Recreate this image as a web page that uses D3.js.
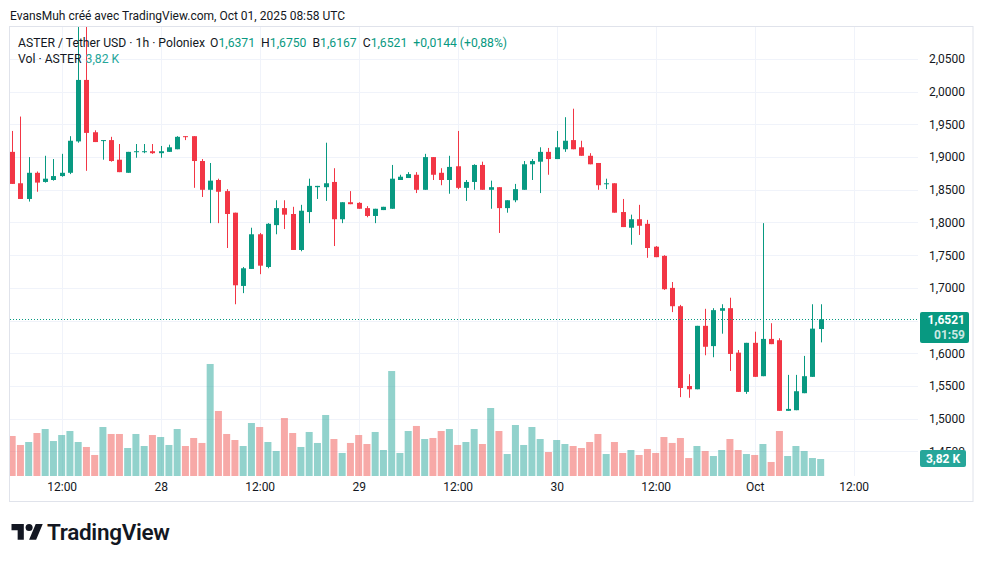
<!DOCTYPE html>
<html>
<head>
<meta charset="utf-8">
<title>ASTER / Tether USD 1h</title>
<script src="https://cdn.jsdelivr.net/npm/d3@7"></script>
<style>
  body { margin: 0; background: #fff; }
  svg { display: block; font-family: Roboto, "Noto Sans", sans-serif; }
</style>
</head>
<body>
<script>
// hourly candles, first one Sep 27 2025 06:00 UTC
const startTime = new Date(Date.UTC(2025, 8, 27, 6));
const open  = [1.908,1.860,1.836,1.876,1.862,1.865,1.871,1.876,1.924,2.018,
               1.938,1.925,1.926,1.896,1.876,1.908,1.908,1.909,1.906,1.908,
               1.912,1.932,1.932,1.894,1.850,1.865,1.848,1.815,1.703,1.729,
               1.782,1.732,1.796,1.822,1.813,1.758,1.816,1.854,1.854,1.862,
               1.805,1.831,1.830,1.822,1.810,1.819,1.821,1.865,1.868,1.873,
               1.850,1.900,1.876,1.865,1.886,1.853,1.862,1.888,1.850,1.854,
               1.822,1.834,1.850,1.889,1.893,1.908,1.897,1.912,1.926,1.915,
               1.902,1.891,1.859,1.860,1.816,1.792,1.805,1.798,1.763,1.749,
               1.700,1.672,1.550,1.545,1.642,1.611,1.665,1.669,1.601,1.541,
               1.616,1.565,1.622,1.620,1.512,1.513,1.539,1.564,1.6371];
const high  = [1.940,1.962,1.900,1.878,1.902,1.897,1.905,1.932,2.105,2.130,
               1.941,1.926,1.931,1.920,1.908,1.920,1.920,1.920,1.917,1.919,
               1.932,1.932,1.932,1.897,1.891,1.867,1.851,1.815,1.732,1.792,
               1.784,1.799,1.834,1.834,1.824,1.827,1.867,1.856,1.922,1.883,
               1.831,1.848,1.831,1.825,1.821,1.824,1.888,1.873,1.877,1.877,
               1.905,1.900,1.883,1.902,1.940,1.865,1.889,1.893,1.864,1.854,
               1.834,1.859,1.894,1.897,1.915,1.914,1.940,1.961,1.974,1.925,
               1.906,1.891,1.867,1.860,1.836,1.812,1.827,1.804,1.764,1.750,
               1.709,1.674,1.568,1.642,1.668,1.669,1.675,1.685,1.605,1.616,
               1.633,1.799,1.646,1.623,1.567,1.567,1.596,1.675,1.6750];
const low   = [1.859,1.836,1.832,1.847,1.861,1.864,1.870,1.874,1.922,1.879,
               1.923,1.896,1.893,1.877,1.876,1.899,1.906,1.905,1.899,1.908,
               1.912,1.926,1.853,1.839,1.799,1.799,1.761,1.675,1.692,1.729,
               1.721,1.730,1.782,1.790,1.758,1.756,1.799,1.836,1.833,1.764,
               1.799,1.828,1.821,1.808,1.799,1.819,1.821,1.865,1.868,1.845,
               1.850,1.865,1.857,1.844,1.851,1.833,1.850,1.850,1.821,1.784,
               1.815,1.831,1.850,1.865,1.845,1.873,1.897,1.908,1.912,1.902,
               1.889,1.850,1.851,1.815,1.793,1.766,1.781,1.746,1.747,1.697,
               1.663,1.533,1.532,1.545,1.597,1.594,1.630,1.573,1.541,1.538,
               1.564,1.565,1.614,1.512,1.512,1.513,1.539,1.564,1.6167];
const close = [1.859,1.836,1.876,1.861,1.867,1.871,1.876,1.925,2.018,1.937,
               1.923,1.926,1.894,1.877,1.908,1.909,1.909,1.906,1.909,1.915,
               1.931,1.931,1.894,1.850,1.864,1.847,1.813,1.704,1.730,1.782,
               1.734,1.798,1.822,1.812,1.758,1.818,1.856,1.856,1.860,1.805,
               1.831,1.828,1.821,1.810,1.821,1.824,1.867,1.870,1.874,1.850,
               1.900,1.873,1.865,1.885,1.853,1.862,1.888,1.850,1.854,1.822,
               1.834,1.851,1.889,1.894,1.908,1.897,1.915,1.925,1.912,1.902,
               1.889,1.857,1.860,1.815,1.793,1.805,1.795,1.761,1.747,1.698,
               1.672,1.547,1.545,1.642,1.610,1.666,1.669,1.599,1.541,1.616,
               1.564,1.622,1.614,1.512,1.515,1.542,1.565,1.6377,1.6521];
// volume in thousands of ASTER
const volume = [8.99,6.97,7.64,9.66,10.56,7.86,9.21,10.11,7.64,6.52,
                4.72,11.01,9.44,9.44,6.29,9.44,6.74,9.21,8.76,6.97,
                10.56,6.74,8.54,7.42,25.17,14.61,9.44,8.09,6.74,11.91,
                11.01,7.64,5.62,13.03,9.66,6.52,9.89,7.42,13.71,8.31,
                5.17,7.42,9.21,7.19,9.89,5.84,23.59,5.17,10.11,11.24,
                8.31,8.54,10.11,10.56,6.97,7.64,10.56,7.19,15.28,10.11,
                4.94,11.46,6.97,11.01,8.31,5.39,8.09,7.19,6.74,6.29,
                7.64,9.44,4.94,7.64,5.17,5.84,4.72,6.07,5.17,8.76,
                7.42,8.54,4.04,6.74,5.62,4.49,5.84,8.31,5.84,4.94,
                4.72,7.19,3.15,10.11,4.49,6.74,5.62,4.04,3.82];
const priceTicks = [1.45,1.50,1.55,1.60,1.65,1.70,1.75,1.80,1.85,1.90,1.95,2.00,2.05,2.10];
const timeTicks = [[2025,8,27,12],[2025,8,28,0],[2025,8,28,12],[2025,8,29,0],[2025,8,29,12],
                   [2025,8,30,0],[2025,8,30,12],[2025,9,1,0],[2025,9,1,12]];
const timeLabels = ["12:00","28","12:00","29","12:00","30","12:00","Oct","12:00"];

const upColor = "#089981", downColor = "#f23645";
const upVol = "rgba(38,166,154,0.5)", downVol = "rgba(239,83,80,0.5)";
const textColor = "#131722", gridColor = "#f0f3fa";

const w = 983, h = 563;
const pane = {left: 10, right: 918, top: 27, bottom: 476};

const svg = d3.select("body").append("svg")
    .attr("width", w).attr("height", h);

const times = d3.utcHour.range(startTime, d3.utcHour.offset(startTime, open.length));
const candles = times.map((t, i) => ({t, o: open[i], h: high[i], l: low[i], c: close[i], v: volume[i]}));

const x = d3.scaleTime()
    .domain([startTime, new Date(Date.UTC(2025, 9, 1, 12))])
    .range([12.17, 853.67]);
const y = d3.scaleLinear().domain([1.5, 2.05]).range([418.7, 59]);
const yVol = d3.scaleLinear().domain([0, 30]).range([pane.bottom, pane.bottom - 133.5]);

const comma = d3.formatLocale({decimal: ",", thousands: " ", grouping: [3], currency: ["", ""]});
const fmtPrice = comma.format(".4f");

// outer frame
svg.append("rect")
    .attr("x", 9.5).attr("y", 26.5).attr("width", 963.5).attr("height", 475)
    .attr("fill", "none").attr("stroke", "#e0e3eb");

const defs = svg.append("defs");
defs.append("clipPath").attr("id", "pane")
  .append("rect")
    .attr("x", pane.left).attr("y", pane.top)
    .attr("width", pane.right - pane.left).attr("height", pane.bottom - pane.top);
// price labels are hidden under the volume badge below y = 450
defs.append("clipPath").attr("id", "above-vol")
  .append("rect").attr("x", -80).attr("y", 0).attr("width", 100).attr("height", 450);

const g = svg.append("g").attr("clip-path", "url(#pane)");

// grid
g.selectAll("line.hgrid").data(priceTicks).enter().append("line")
    .attr("class", "hgrid")
    .attr("x1", pane.left).attr("x2", pane.right)
    .attr("y1", d => Math.round(y(d)) + 0.5).attr("y2", d => Math.round(y(d)) + 0.5)
    .attr("stroke", gridColor);
const tickDates = timeTicks.map(a => new Date(Date.UTC(...a)));
g.selectAll("line.vgrid").data(tickDates).enter().append("line")
    .attr("class", "vgrid")
    .attr("x1", d => Math.round(x(d)) + 0.5).attr("x2", d => Math.round(x(d)) + 0.5)
    .attr("y1", pane.top).attr("y2", pane.bottom)
    .attr("stroke", gridColor);

// volume
g.selectAll("rect.vol").data(candles).enter().append("rect")
    .attr("class", "vol")
    .attr("x", d => x(d.t) - 3.5)
    .attr("width", 7)
    .attr("y", d => yVol(d.v))
    .attr("height", d => yVol(0) - yVol(d.v))
    .attr("fill", d => d.c >= d.o ? upVol : downVol);

// candles
const cg = g.selectAll("g.candle").data(candles).enter().append("g")
    .attr("class", "candle");
cg.append("line")
    .attr("x1", d => Math.round(x(d.t)) + 0.5).attr("x2", d => Math.round(x(d.t)) + 0.5)
    .attr("y1", d => y(d.h)).attr("y2", d => y(d.l))
    .attr("stroke", d => d.c >= d.o ? upColor : downColor)
    .attr("stroke-width", 1);
cg.append("rect")
    .attr("x", d => Math.round(x(d.t)) - 2)
    .attr("width", 5)
    .attr("y", d => y(Math.max(d.o, d.c)))
    .attr("height", d => Math.max(1, Math.abs(y(d.o) - y(d.c))))
    .attr("fill", d => d.c >= d.o ? upColor : downColor);

// last price line
const last = candles[candles.length - 1];
const prev = candles[candles.length - 2];
g.append("line")
    .attr("x1", pane.left).attr("x2", pane.right)
    .attr("y1", Math.round(y(last.c)) + 0.5).attr("y2", Math.round(y(last.c)) + 0.5)
    .attr("stroke", upColor).attr("stroke-dasharray", "1,2");

// price axis
const yAxis = svg.append("g")
    .attr("transform", `translate(${pane.right + 47},0)`)
    .attr("clip-path", "url(#above-vol)")
    .call(d3.axisLeft(y).tickValues(priceTicks.filter(d => d < 2.08)).tickSize(0).tickPadding(0).tickFormat(fmtPrice));
yAxis.select(".domain").remove();
yAxis.selectAll("text")
    .attr("fill", textColor).style("font-size", "12px").style("font-family", "Roboto, sans-serif");

// price label
svg.append("rect")
    .attr("x", 920).attr("y", 312).attr("width", 49).attr("height", 31)
    .attr("rx", 2).attr("fill", upColor);
svg.append("text").attr("x", 965).attr("y", 324).attr("text-anchor", "end")
    .attr("fill", "#fff").style("font-size", "12px").style("font-weight", 700)
    .text(fmtPrice(last.c));
svg.append("text").attr("x", 965).attr("y", 339).attr("text-anchor", "end")
    .attr("fill", "rgba(255,255,255,0.8)").style("font-size", "12px").style("font-weight", 700)
    .text("01:59");
// volume label
svg.append("rect")
    .attr("x", 920).attr("y", 450).attr("width", 46).attr("height", 17)
    .attr("rx", 2).attr("fill", "#26a69a");
svg.append("text").attr("x", 943).attr("y", 462.5).attr("text-anchor", "middle")
    .attr("fill", "#fff").style("font-size", "12px").style("font-weight", 700)
    .text(comma.format(".2f")(last.v) + " K");

// time axis
const xAxis = svg.append("g")
    .attr("transform", `translate(0,${pane.bottom + 6})`)
    .call(d3.axisBottom(x).tickValues(tickDates).tickSize(0).tickPadding(0)
        .tickFormat((d, i) => timeLabels[i]));
xAxis.select(".domain").remove();
xAxis.selectAll("text")
    .attr("fill", textColor).attr("dy", "0.71em").style("font-size", "12px")
    .style("font-family", "Roboto, sans-serif");

// header
svg.append("text").attr("x", 10).attr("y", 19.5)
    .attr("fill", textColor).style("font-size", "12px")
    .text("EvansMuh créé avec TradingView.com, Oct 01, 2025 08:58 UTC");

const chg = last.c - prev.c;
const legend = svg.append("text").attr("x", 18).attr("y", 46.5)
    .attr("fill", textColor).style("font-size", "12.2px");
const parts = [
  ["ASTER / Tether USD · 1h · Poloniex", textColor, 0],
  ["O", textColor, 5], [fmtPrice(last.o), upColor, 0],
  ["H", textColor, 6], [fmtPrice(last.h), upColor, 0],
  ["B", textColor, 6], [fmtPrice(last.l), upColor, 0],
  ["C", textColor, 6], [fmtPrice(last.c), upColor, 0],
  ["+" + fmtPrice(chg), upColor, 6],
  ["(+" + comma.format(".2f")(chg / prev.c * 100) + "%)", upColor, 3]
];
legend.selectAll("tspan").data(parts).enter().append("tspan")
    .attr("dx", d => d[2]).attr("fill", d => d[1]).text(d => d[0]);

const vleg = svg.append("text").attr("x", 18).attr("y", 63)
    .style("font-size", "12.2px");
vleg.append("tspan").attr("fill", textColor).text("Vol · ASTER");
vleg.append("tspan").attr("dx", 4).attr("fill", "#26a69a").text(comma.format(".2f")(last.v) + " K");

// logo
const logo = svg.append("g").attr("transform", "translate(11.5,520.5) scale(0.88)").attr("fill", "#131722");
logo.append("path").attr("d", "M14 22H7V11H0V4h14v18zM28 22h-8l7.5-18h8L28 22z");
logo.append("circle").attr("cx", 20).attr("cy", 8).attr("r", 4);
svg.append("text").attr("x", 47).attr("y", 540)
    .attr("fill", "#131722").style("font-size", "22.5px").style("font-weight", 600)
    .style("letter-spacing", "-0.3px")
    .text("TradingView");
</script>
</body>
</html>
